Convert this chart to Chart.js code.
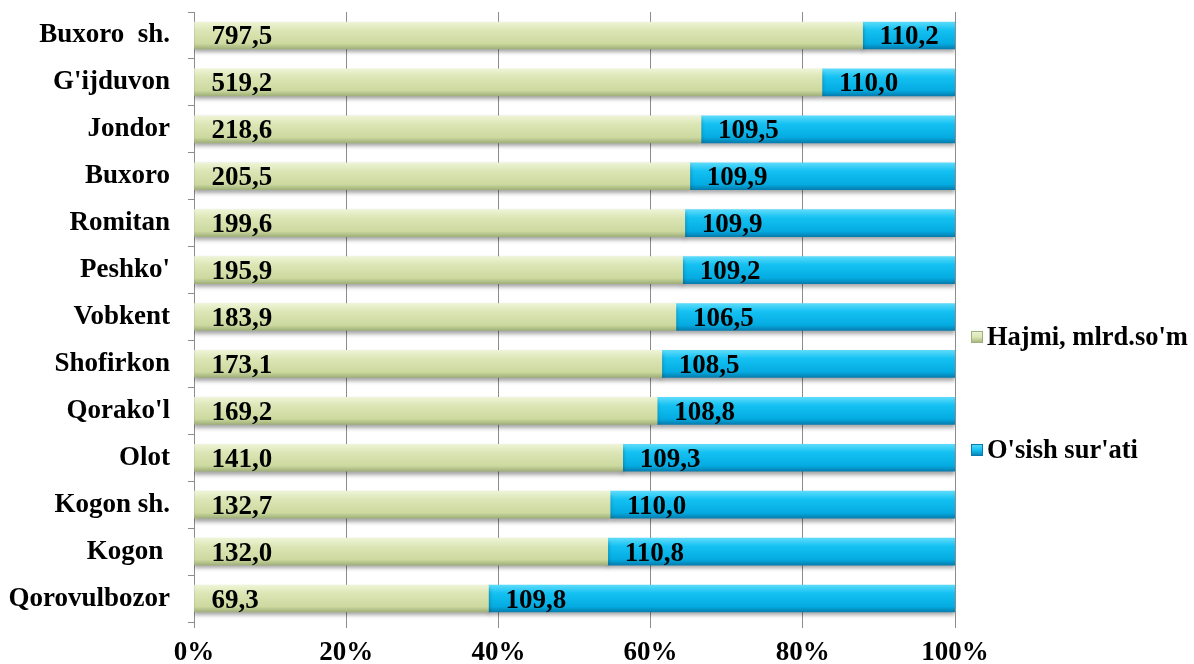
<!DOCTYPE html>
<html>
<head>
<meta charset="utf-8">
<script src="https://cdn.jsdelivr.net/npm/chart.js@4.4.1/dist/chart.umd.min.js"></script>
<style>
  html, body { margin: 0; padding: 0; background: #ffffff; }
  #wrap { width: 1194px; height: 664px; position: relative; }
</style>
</head>
<body>
<div id="wrap"><canvas id="c" width="1194" height="664"></canvas></div>
<script>
// ---- data ----
const categories = ["Buxoro  sh.", "G'ijduvon", "Jondor", "Buxoro", "Romitan", "Peshko'", "Vobkent",
  "Shofirkon", "Qorako'l", "Olot", "Kogon sh.", "Kogon ", "Qorovulbozor"];
const hajmi = [797.5, 519.2, 218.6, 205.5, 199.6, 195.9, 183.9, 173.1, 169.2, 141.0, 132.7, 132.0, 69.3];
const osish = [110.2, 110.0, 109.5, 109.9, 109.9, 109.2, 106.5, 108.5, 108.8, 109.3, 110.0, 110.8, 109.8];
const seriesNames = ["Hajmi, mlrd.so'm", "O'sish sur'ati"];
const xTicks = [0, 20, 40, 60, 80, 100];

// 100% stacked shares
const hajmiPct = hajmi.map((v, i) => v / (v + osish[i]) * 100);
const osishPct = osish.map((v, i) => v / (hajmi[i] + v) * 100);
const rawSeries = [hajmi, osish];

const FONT = "'Liberation Serif', 'Times New Roman', serif";
const FS = 27;
const FS_LEG = 26.5;
const BAR_T = 27;

const palettes = [
  ['#eef4d6', '#dce6b6', '#ccd99f', '#a0b07a'],
  ['#5cdbfb', '#14c1f2', '#04abe1', '#067dae']
];
const flat = ['#d5e0ad', '#14bdea'];

function barGradient(ds) {
  return function (ctx) {
    const chart = ctx.chart;
    const y = chart.scales && chart.scales.y;
    if (!chart.chartArea || !y || ctx.type !== 'data') return flat[ds];
    const yc = y.getPixelForValue(ctx.dataIndex);
    const g = chart.ctx.createLinearGradient(0, yc - BAR_T / 2, 0, yc + BAR_T / 2);
    const p = palettes[ds];
    g.addColorStop(0, p[0]);
    g.addColorStop(0.3, p[1]);
    g.addColorStop(0.8, p[2]);
    g.addColorStop(1, p[3]);
    return g;
  };
}

const fx = {
  id: 'fx',
  beforeDatasetsDraw(chart) {
    const c = chart.ctx;
    c.save();
    c.shadowColor = 'rgba(0,0,0,0.35)';
    c.shadowOffsetY = 3;
    c.shadowOffsetX = 0;
    c.shadowBlur = 4;
  },
  afterDatasetsDraw(chart) {
    const c = chart.ctx;
    c.restore();
    c.save();
    c.font = 'bold ' + FS + 'px ' + FONT;
    c.fillStyle = '#000000';
    c.textAlign = 'left';
    c.textBaseline = 'middle';
    chart.data.datasets.forEach((ds, di) => {
      const meta = chart.getDatasetMeta(di);
      meta.data.forEach((bar, i) => {
        const left = Math.min(bar.x, bar.base);
        const txt = rawSeries[di][i].toFixed(1).replace('.', ',');
        c.fillText(txt, left + 17, bar.y + 2);
      });
    });
    c.restore();
  },
  afterDraw(chart) {
    // legend
    const c = chart.ctx;
    c.save();
    c.font = 'bold ' + FS_LEG + 'px ' + FONT;
    c.textAlign = 'left';
    c.textBaseline = 'middle';
    const ys = [337, 450];
    chart.data.datasets.forEach((ds, di) => {
      const y = ys[di];
      const bx = 971, bs = 12;
      const p = palettes[di];
      const g = c.createLinearGradient(0, y - bs / 2, 0, y + bs / 2);
      g.addColorStop(0, p[0]);
      g.addColorStop(0.5, p[1]);
      g.addColorStop(1, p[3]);
      c.fillStyle = g;
      c.fillRect(bx, y - bs / 2, bs, bs);
      c.strokeStyle = p[3];
      c.lineWidth = 1;
      c.strokeRect(bx + 0.5, y - bs / 2 + 0.5, bs - 1, bs - 1);
      c.fillStyle = '#000000';
      c.fillText(ds.label, 987, y + 1);
    });
    c.restore();
  }
};

new Chart(document.getElementById('c'), {
  type: 'bar',
  data: {
    labels: categories,
    datasets: [
      { label: seriesNames[0], data: hajmiPct, backgroundColor: barGradient(0), borderWidth: 0 },
      { label: seriesNames[1], data: osishPct, backgroundColor: barGradient(1), borderWidth: 0 }
    ]
  },
  options: {
    indexAxis: 'y',
    responsive: false,
    animation: false,
    devicePixelRatio: 1,
    layout: { padding: { left: 0, right: 239, top: 12, bottom: 0 } },
    datasets: { bar: { barThickness: BAR_T } },
    plugins: {
      legend: { display: false },
      tooltip: { enabled: false }
    },
    scales: {
      x: {
        stacked: true,
        min: 0, max: 100,
        afterBuildTicks(scale) { scale.ticks = xTicks.map(v => ({ value: v })); },
        afterFit(scale) { scale.height = 42; scale.paddingLeft = 0; scale.paddingRight = 0; },
        ticks: {
          callback: v => v + '%',
          color: '#000000',
          font: { family: FONT, size: FS, weight: 'bold' },
          padding: 9,
          maxRotation: 0
        },
        grid: { color: '#8c8c8c', lineWidth: 1, tickLength: 6, drawTicks: true },
        border: { display: false }
      },
      y: {
        stacked: true,
        afterFit(scale) { scale.width = 194; scale.paddingTop = 0; scale.paddingBottom = 0; },
        ticks: {
          color: '#000000',
          font: { family: FONT, size: FS, weight: 'bold' },
          padding: 18,
          autoSkip: false
        },
        grid: { drawOnChartArea: false, drawTicks: true, tickLength: 6, color: '#8c8c8c', offset: true },
        border: { display: true, color: '#8c8c8c', width: 1 }
      }
    }
  },
  plugins: [fx]
});
</script>
</body>
</html>
